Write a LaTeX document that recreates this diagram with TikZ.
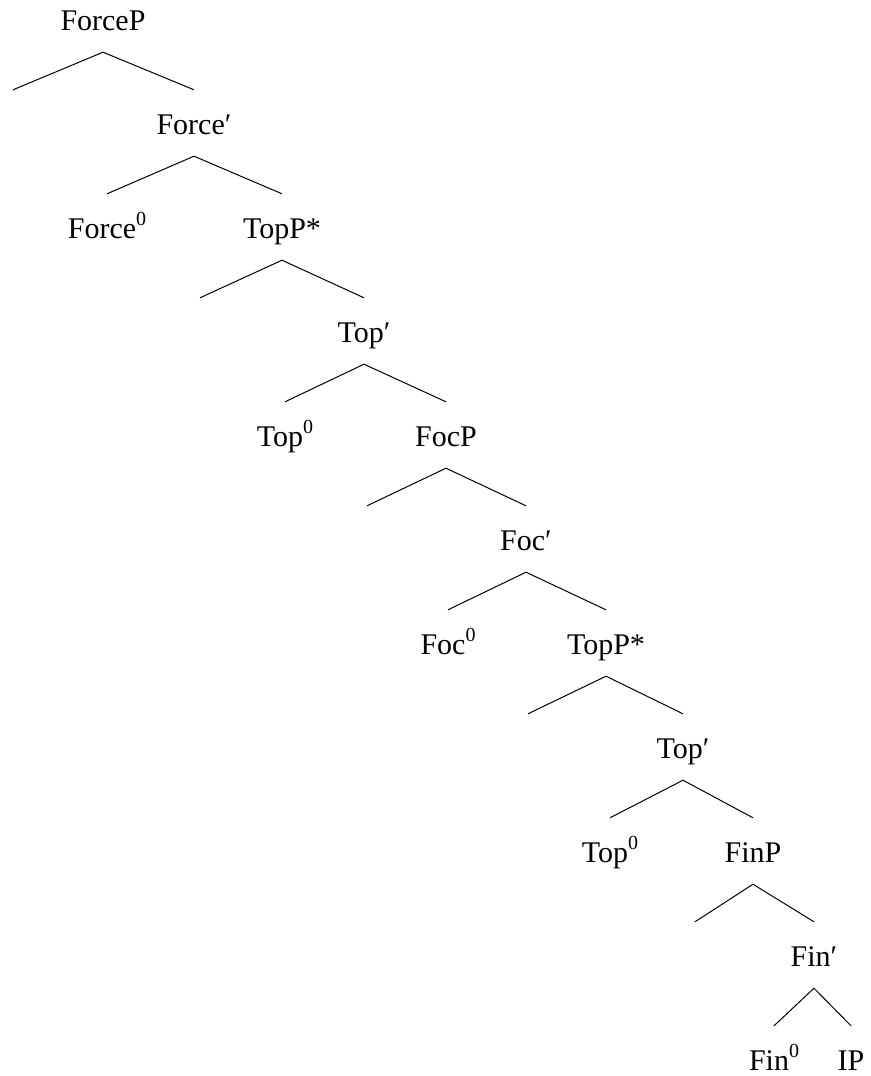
\documentclass[tikz,border=0pt]{standalone}
\usepackage{fontspec}
\setmainfont{Liberation Serif}
\newcommand{\supz}{\raisebox{0.42em}{\fontsize{20}{20}\selectfont 0}}
\begin{document}
\begin{tikzpicture}[x=1pt,y=-1pt,
  lab/.style={anchor=base,inner xsep=0pt,inner ysep=22pt,text height=22pt,text depth=0pt,font=\fontsize{30}{36}\selectfont},
  edge/.style={line width=1pt,black}]
\useasboundingbox (0,0) rectangle (870,1076);
% level baselines: 29 + 104k
\node[lab] (forceP) at (103,30) {ForceP};
\node[lab] (spec1) at (13,134) {};
\node[lab] (forceB) at (194,134) {Force′};
\node[lab] (force0) at (107,238) {Force\supz};
\node[lab] (topP1) at (282,238) {TopP*};
\node[lab] (spec2) at (200,342) {};
\node[lab] (topB1) at (364,342) {Top′};
\node[lab] (top01) at (285,446) {Top\supz};
\node[lab] (focP) at (446,446) {FocP};
\node[lab] (spec3) at (367,550) {};
\node[lab] (focB) at (526,550) {Foc′};
\node[lab] (foc0) at (448,654) {Foc\supz};
\node[lab] (topP2) at (606,654) {TopP*};
\node[lab] (spec4) at (528,758) {};
\node[lab] (topB2) at (683,758) {Top′};
\node[lab] (top02) at (610,862) {Top\supz};
\node[lab] (finP) at (753,862) {FinP};
\node[lab] (spec5) at (695,966) {};
\node[lab] (finB) at (814,966) {Fin′};
\node[lab] (fin0) at (774,1070) {Fin\supz};
\node[lab] (ip) at (851,1070) {IP};
\foreach \p/\l/\r in {forceP/spec1/forceB, forceB/force0/topP1, topP1/spec2/topB1,
  topB1/top01/focP, focP/spec3/focB, focB/foc0/topP2, topP2/spec4/topB2,
  topB2/top02/finP, finP/spec5/finB, finB/fin0/ip}
  \draw[edge] (\l.north) -- (\p.south) -- (\r.north);
\end{tikzpicture}
\end{document}
